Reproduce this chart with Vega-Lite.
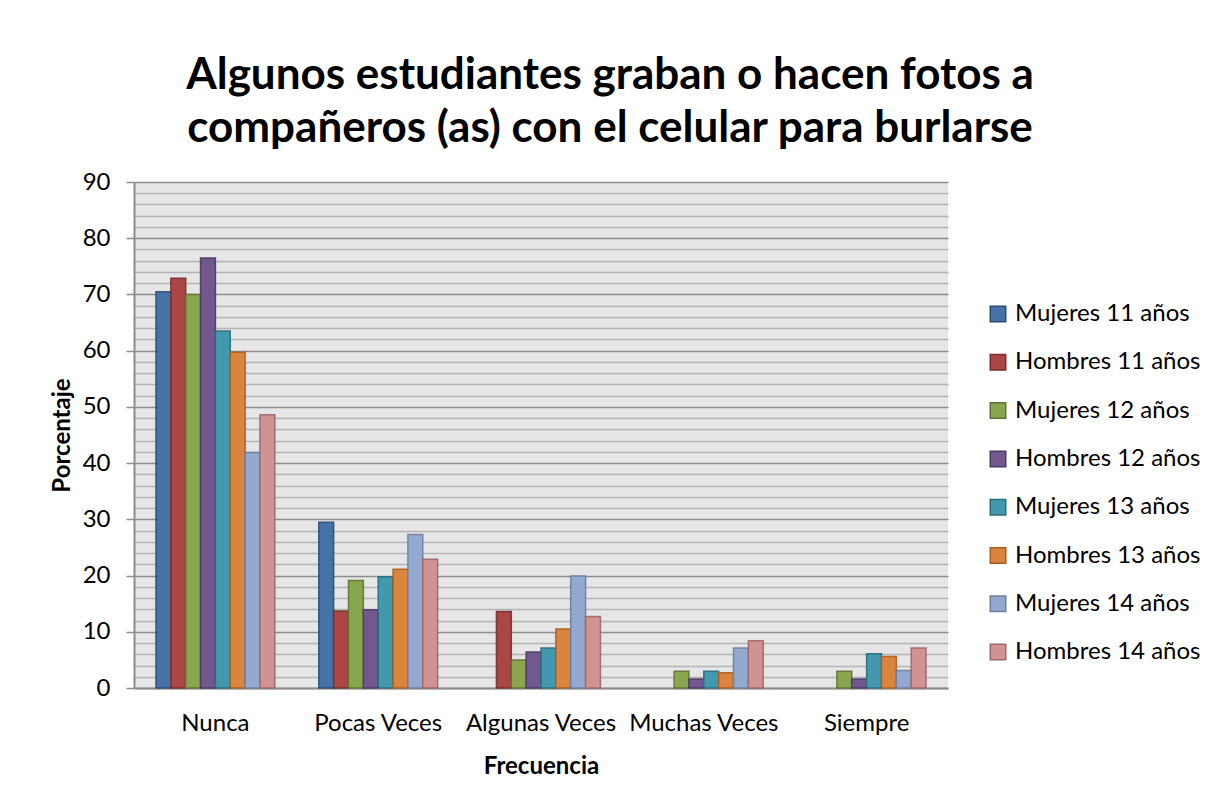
{
  "$schema": "https://vega.github.io/schema/vega-lite/v6.json",
  "width": 814,
  "height": 506,
  "autosize": {"type": "none"},
  "padding": {"left": 134, "top": 182, "right": 269, "bottom": 117},
  "background": "white",
  "config": {
    "font": "Lato",
    "view": {"fill": "#e6e6e6", "stroke": null}
  },
  "title": {
    "text": ["Algunos estudiantes graban o hacen fotos a", "compañeros (as) con el celular para burlarse"],
    "fontSize": 44,
    "fontWeight": "bold",
    "font": "Lato",
    "color": "#000000",
    "anchor": "middle",
    "dx": 69,
    "offset": 19,
    "lineHeight": 53
  },
  "data": {
    "values": [
      {"frecuencia": "Nunca", "grupo": "Mujeres 11 años", "valor": 70.5},
      {"frecuencia": "Nunca", "grupo": "Hombres 11 años", "valor": 72.9},
      {"frecuencia": "Nunca", "grupo": "Mujeres 12 años", "valor": 70.0},
      {"frecuencia": "Nunca", "grupo": "Hombres 12 años", "valor": 76.5},
      {"frecuencia": "Nunca", "grupo": "Mujeres 13 años", "valor": 63.5},
      {"frecuencia": "Nunca", "grupo": "Hombres 13 años", "valor": 59.7},
      {"frecuencia": "Nunca", "grupo": "Mujeres 14 años", "valor": 41.9},
      {"frecuencia": "Nunca", "grupo": "Hombres 14 años", "valor": 48.6},
      {"frecuencia": "Pocas Veces", "grupo": "Mujeres 11 años", "valor": 29.5},
      {"frecuencia": "Pocas Veces", "grupo": "Hombres 11 años", "valor": 13.7},
      {"frecuencia": "Pocas Veces", "grupo": "Mujeres 12 años", "valor": 19.1},
      {"frecuencia": "Pocas Veces", "grupo": "Hombres 12 años", "valor": 13.9},
      {"frecuencia": "Pocas Veces", "grupo": "Mujeres 13 años", "valor": 19.8},
      {"frecuencia": "Pocas Veces", "grupo": "Hombres 13 años", "valor": 21.1},
      {"frecuencia": "Pocas Veces", "grupo": "Mujeres 14 años", "valor": 27.3},
      {"frecuencia": "Pocas Veces", "grupo": "Hombres 14 años", "valor": 22.9},
      {"frecuencia": "Algunas Veces", "grupo": "Hombres 11 años", "valor": 13.6},
      {"frecuencia": "Algunas Veces", "grupo": "Mujeres 12 años", "valor": 5.0},
      {"frecuencia": "Algunas Veces", "grupo": "Hombres 12 años", "valor": 6.4},
      {"frecuencia": "Algunas Veces", "grupo": "Mujeres 13 años", "valor": 7.1},
      {"frecuencia": "Algunas Veces", "grupo": "Hombres 13 años", "valor": 10.5},
      {"frecuencia": "Algunas Veces", "grupo": "Mujeres 14 años", "valor": 19.9},
      {"frecuencia": "Algunas Veces", "grupo": "Hombres 14 años", "valor": 12.7},
      {"frecuencia": "Muchas Veces", "grupo": "Mujeres 12 años", "valor": 3.0},
      {"frecuencia": "Muchas Veces", "grupo": "Hombres 12 años", "valor": 1.6},
      {"frecuencia": "Muchas Veces", "grupo": "Mujeres 13 años", "valor": 3.0},
      {"frecuencia": "Muchas Veces", "grupo": "Hombres 13 años", "valor": 2.7},
      {"frecuencia": "Muchas Veces", "grupo": "Mujeres 14 años", "valor": 7.1},
      {"frecuencia": "Muchas Veces", "grupo": "Hombres 14 años", "valor": 8.4},
      {"frecuencia": "Siempre", "grupo": "Mujeres 12 años", "valor": 3.0},
      {"frecuencia": "Siempre", "grupo": "Hombres 12 años", "valor": 1.6},
      {"frecuencia": "Siempre", "grupo": "Mujeres 13 años", "valor": 6.1},
      {"frecuencia": "Siempre", "grupo": "Hombres 13 años", "valor": 5.6},
      {"frecuencia": "Siempre", "grupo": "Mujeres 14 años", "valor": 3.1},
      {"frecuencia": "Siempre", "grupo": "Hombres 14 años", "valor": 7.1}
    ]
  },
  "mark": {"type": "bar", "strokeWidth": 1.5, "strokeOpacity": 0.9},
  "encoding": {
    "x": {
      "field": "frecuencia",
      "type": "nominal",
      "sort": ["Nunca", "Pocas Veces", "Algunas Veces", "Muchas Veces", "Siempre"],
      "scale": {"paddingInner": 0.27, "paddingOuter": 0.135},
      "axis": {
        "title": "Frecuencia",
        "titleFontSize": 24,
        "titleFontWeight": "bold",
        "titleColor": "#000000",
        "titlePadding": 19,
        "labelAngle": 0,
        "labelFontSize": 24,
        "labelColor": "#000000",
        "labelPadding": 23,
        "ticks": false,
        "domainColor": "#8c8c8c",
        "domainWidth": 2
      }
    },
    "xOffset": {
      "field": "grupo",
      "type": "nominal",
      "sort": ["Mujeres 11 años", "Hombres 11 años", "Mujeres 12 años", "Hombres 12 años", "Mujeres 13 años", "Hombres 13 años", "Mujeres 14 años", "Hombres 14 años"],
      "scale": {
        "domain": ["Mujeres 11 años", "Hombres 11 años", "Mujeres 12 años", "Hombres 12 años", "Mujeres 13 años", "Hombres 13 años", "Mujeres 14 años", "Hombres 14 años"],
        "paddingInner": 0,
        "paddingOuter": 0
      }
    },
    "y": {
      "field": "valor",
      "type": "quantitative",
      "scale": {"domain": [0, 90], "nice": false},
      "axis": {
        "title": "Porcentaje",
        "titleFontSize": 24,
        "titleFontWeight": "bold",
        "titleColor": "#000000",
        "titlePadding": 8,
        "values": [0, 2, 4, 6, 8, 10, 12, 14, 16, 18, 20, 22, 24, 26, 28, 30, 32, 34, 36, 38, 40, 42, 44, 46, 48, 50, 52, 54, 56, 58, 60, 62, 64, 66, 68, 70, 72, 74, 76, 78, 80, 82, 84, 86, 88, 90],
        "labelExpr": "datum.value % 10 === 0 ? datum.label : ''",
        "labelFontSize": 24,
        "labelColor": "#000000",
        "labelPadding": 16,
        "tickSize": 8,
        "tickColor": "#8c8c8c",
        "tickWidth": 1.5,
        "tickOpacity": {"condition": {"test": "datum.value % 10 === 0", "value": 1}, "value": 0},
        "grid": true,
        "gridColor": {"condition": {"test": "datum.value % 10 === 0", "value": "#8c8c8c"}, "value": "#b4b4b4"},
        "gridWidth": 1.4,
        "domainColor": "#8c8c8c",
        "domainWidth": 2
      }
    },
    "color": {
      "field": "grupo",
      "type": "nominal",
      "sort": ["Mujeres 11 años", "Hombres 11 años", "Mujeres 12 años", "Hombres 12 años", "Mujeres 13 años", "Hombres 13 años", "Mujeres 14 años", "Hombres 14 años"],
      "scale": {
        "domain": ["Mujeres 11 años", "Hombres 11 años", "Mujeres 12 años", "Hombres 12 años", "Mujeres 13 años", "Hombres 13 años", "Mujeres 14 años", "Hombres 14 años"],
        "range": ["#4572a7", "#aa4643", "#89a54e", "#71588f", "#4198af", "#db843d", "#93a9cf", "#d19392"]
      },
      "legend": {
        "title": null,
        "orient": "none",
        "legendX": 852,
        "legendY": 120,
        "symbolType": "square",
        "symbolSize": 240,
        "symbolStrokeWidth": 1.5,
        "labelFontSize": 24,
        "labelColor": "#000000",
        "labelOffset": 5,
        "rowPadding": 24.3,
        "labelLimit": 300
      }
    },
    "stroke": {
      "field": "grupo",
      "type": "nominal",
      "sort": ["Mujeres 11 años", "Hombres 11 años", "Mujeres 12 años", "Hombres 12 años", "Mujeres 13 años", "Hombres 13 años", "Mujeres 14 años", "Hombres 14 años"],
      "scale": {
        "domain": ["Mujeres 11 años", "Hombres 11 años", "Mujeres 12 años", "Hombres 12 años", "Mujeres 13 años", "Hombres 13 años", "Mujeres 14 años", "Hombres 14 años"],
        "range": ["#2d4d74", "#772f2d", "#5e7334", "#4c3b62", "#2b6b7b", "#a65e24", "#6b7ea2", "#9c6766"]
      },
      "legend": {
        "title": null,
        "orient": "none",
        "legendX": 852,
        "legendY": 120,
        "symbolType": "square",
        "symbolSize": 240,
        "symbolStrokeWidth": 1.5,
        "labelFontSize": 24,
        "labelColor": "#000000",
        "labelOffset": 5,
        "rowPadding": 24.3,
        "labelLimit": 300
      }
    }
  }
}
